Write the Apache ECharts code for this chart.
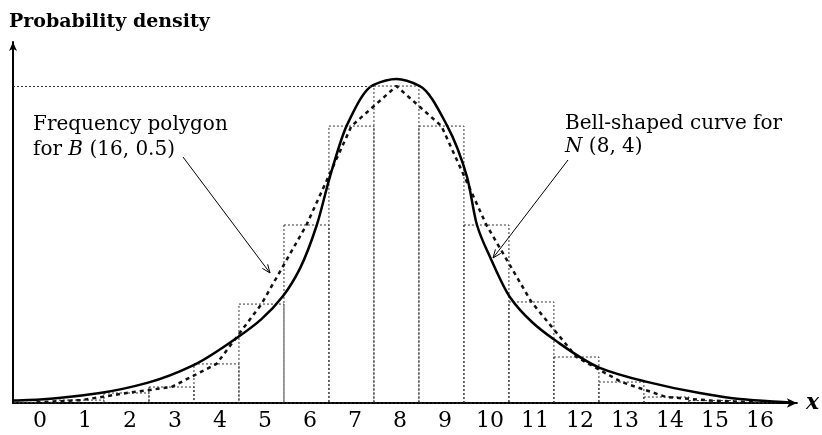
<!DOCTYPE html>
<html>
<head>
<meta charset="utf-8">
<script src="https://cdn.jsdelivr.net/npm/echarts@6/dist/echarts.min.js"></script>
<style>
  html, body { margin: 0; padding: 0; background: #fff; }
  #chart { width: 822px; height: 435px; }
</style>
</head>
<body>
<div id="chart"></div>
<script>
// Outcomes of B(16, 0.5) and the histogram heights (probability per unit)
const outcomes = [0, 1, 2, 3, 4, 5, 6, 7, 8, 9, 10, 11, 12, 13, 14, 15, 16];
const binomialDensity = [0.0004, 0.0018, 0.0062, 0.0099, 0.0242, 0.0613, 0.1103, 0.1716,
  0.1964, 0.1716, 0.1103, 0.0626, 0.0285, 0.0130, 0.0037, 0.0015, 0.0004];

// Bell-shaped curve for N(8, 4), sampled along x
const curveX = [-0.5, 0.08, 1.41, 2.48, 3.48, 4.48, 5.0, 5.48, 5.86, 6.23, 6.52, 6.9, 7.48,
  8.0, 8.52, 9.12, 9.57, 9.79, 10.08, 10.52, 11.0, 11.52, 12.52, 13.52, 14.74, 15.63, 16.74];
const curveY = [0.0015, 0.0022, 0.0062, 0.0126, 0.0233, 0.0409, 0.0520, 0.0663, 0.0836,
  0.1103, 0.1400, 0.1722, 0.1970, 0.2007, 0.1964, 0.1722, 0.1400, 0.1103, 0.0905, 0.0657,
  0.0505, 0.0390, 0.0218, 0.0134, 0.0062, 0.0025, 0.0003];

const tickLabels = ['0', '1', '2', '3', '4', '5', '6', '7', '8', '9', '10', '11', '12', '13', '14', '15', '16'];

const X_MIN = -0.522, X_MAX = 16.9, Y_MAX = 0.2237;
const SERIF = '"DejaVu Serif", serif';

const histData = outcomes.map((x, i) => [x, binomialDensity[i]]);
const polygonData = outcomes.map((x, i) => [x, binomialDensity[i]]);
const curveData = curveX.map((x, i) => [x, curveY[i]]);
const peak = Math.max(...binomialDensity);
const peakIndex = binomialDensity.indexOf(peak);

// monotone cubic (PCHIP) path through pixel points, x increasing
function smoothPath(pts) {
  const n = pts.length, h = [], m = [], t = [];
  for (let i = 0; i < n - 1; i++) {
    h[i] = pts[i + 1][0] - pts[i][0];
    m[i] = (pts[i + 1][1] - pts[i][1]) / h[i];
  }
  t[0] = m[0]; t[n - 1] = m[n - 2];
  for (let i = 1; i < n - 1; i++) {
    if (m[i - 1] * m[i] <= 0) { t[i] = 0; continue; }
    const w1 = 2 * h[i] + h[i - 1], w2 = h[i] + 2 * h[i - 1];
    t[i] = (w1 + w2) / (w1 / m[i - 1] + w2 / m[i]);
  }
  let d = 'M' + pts[0][0] + ' ' + pts[0][1];
  for (let i = 0; i < n - 1; i++) {
    const k = h[i] / 3;
    d += ' C' + (pts[i][0] + k) + ' ' + (pts[i][1] + t[i] * k) + ' '
      + (pts[i + 1][0] - k) + ' ' + (pts[i + 1][1] - t[i + 1] * k) + ' '
      + pts[i + 1][0] + ' ' + pts[i + 1][1];
  }
  return d;
}

// thin annotation arrow with an open head
function arrow(x1, y1, x2, y2) {
  const a = Math.atan2(y2 - y1, x2 - x1), L = 9, w = 0.38;
  return [
    { type: 'line', shape: { x1, y1, x2, y2 }, style: { stroke: '#000', lineWidth: 1 } },
    { type: 'polyline', shape: { points: [
        [x2 - L * Math.cos(a - w), y2 - L * Math.sin(a - w)], [x2, y2],
        [x2 - L * Math.cos(a + w), y2 - L * Math.sin(a + w)]] },
      style: { stroke: '#000', lineWidth: 1, fill: null } }
  ];
}

const chart = echarts.init(document.getElementById('chart'), null, { renderer: 'canvas' });

chart.setOption({
  animation: false,
  backgroundColor: '#fff',
  grid: { left: 13, right: 25, top: 42, bottom: 32 },
  xAxis: {
    type: 'value', min: X_MIN, max: X_MAX,
    name: 'x', nameLocation: 'end', nameGap: 9,
    nameTextStyle: { fontFamily: SERIF, fontStyle: 'italic', fontWeight: 'bold', fontSize: 22, color: '#000',
      verticalAlign: 'middle' },
    axisLine: { lineStyle: { color: '#000', width: 2 }, symbol: ['none', 'arrow'], symbolSize: [7, 10] },
    axisTick: { show: false },
    splitLine: { show: false },
    axisLabel: {
      customValues: outcomes,
      formatter: v => tickLabels[outcomes.indexOf(Math.round(v))],
      fontFamily: SERIF, fontSize: 22, color: '#000', margin: 7, padding: [0, 0, 0, 7]
    }
  },
  yAxis: {
    type: 'value', min: 0, max: Y_MAX,
    axisLine: { show: true, onZero: false, lineStyle: { color: '#000', width: 2 }, symbol: ['none', 'arrow'], symbolSize: [6, 9] },
    axisTick: { show: false }, axisLabel: { show: false }, splitLine: { show: false }
  },
  series: [
    {
      type: 'custom',
      name: 'histogram',
      data: histData,
      renderItem: (params, api) => {
        const x = api.value(0), y = api.value(1);
        const p0 = api.coord([x - 0.5, y]);
        const p1 = api.coord([x + 0.5, 0]);
        return {
          type: 'rect',
          shape: { x: p0[0], y: p0[1], width: p1[0] - p0[0], height: p1[1] - p0[1] },
          style: { fill: null, stroke: '#333', lineWidth: 1, lineDash: [2, 2] }
        };
      },
      markLine: {
        silent: true, symbol: 'none', label: { show: false },
        lineStyle: { color: '#333', width: 1, type: [2, 2] },
        data: [[{ coord: [X_MIN, peak] }, { coord: [outcomes[peakIndex] - 0.5, peak] }]]
      },
      z: 1
    },
    {
      type: 'line',
      name: 'Frequency polygon',
      data: polygonData,
      showSymbol: false,
      lineStyle: { color: '#111', width: 2.5, type: [4, 4] },
      z: 2
    },
    {
      type: 'custom',
      name: 'Bell-shaped curve',
      data: curveData,
      clip: false,
      renderItem: (params, api) => {
        if (params.dataIndex !== 0) return null;
        const pts = curveData.map(d => api.coord(d));
        return {
          type: 'path',
          shape: { pathData: smoothPath(pts) },
          style: { fill: null, stroke: '#000', lineWidth: 2.5, lineJoin: 'round' }
        };
      },
      z: 3
    }
  ],
  graphic: [
    { type: 'text', left: 9, top: 13, style: { text: 'Probability density', font: 'bold 19px ' + SERIF, fill: '#000' } },
    { type: 'text', x: 33, y: 125, style: { text: 'Frequency polygon', font: '20px ' + SERIF, fill: '#000', verticalAlign: 'middle' } },
    { type: 'text', x: 33, y: 150, style: {
        text: 'for {i|B} (16, 0.5)', font: '20px ' + SERIF, fill: '#000', verticalAlign: 'middle',
        rich: { i: { fontFamily: SERIF, fontSize: 20, fontStyle: 'italic' } } } },
    { type: 'text', x: 565, y: 124, style: { text: 'Bell-shaped curve for', font: '20px ' + SERIF, fill: '#000', verticalAlign: 'middle' } },
    { type: 'text', x: 565, y: 147, style: {
        text: '{i|N} (8, 4)', font: '20px ' + SERIF, fill: '#000', verticalAlign: 'middle',
        rich: { i: { fontFamily: SERIF, fontSize: 20, fontStyle: 'italic' } } } },
    ...arrow(183, 157, 270, 273),
    ...arrow(568, 160, 493, 258)
  ]
});
</script>
</body>
</html>
